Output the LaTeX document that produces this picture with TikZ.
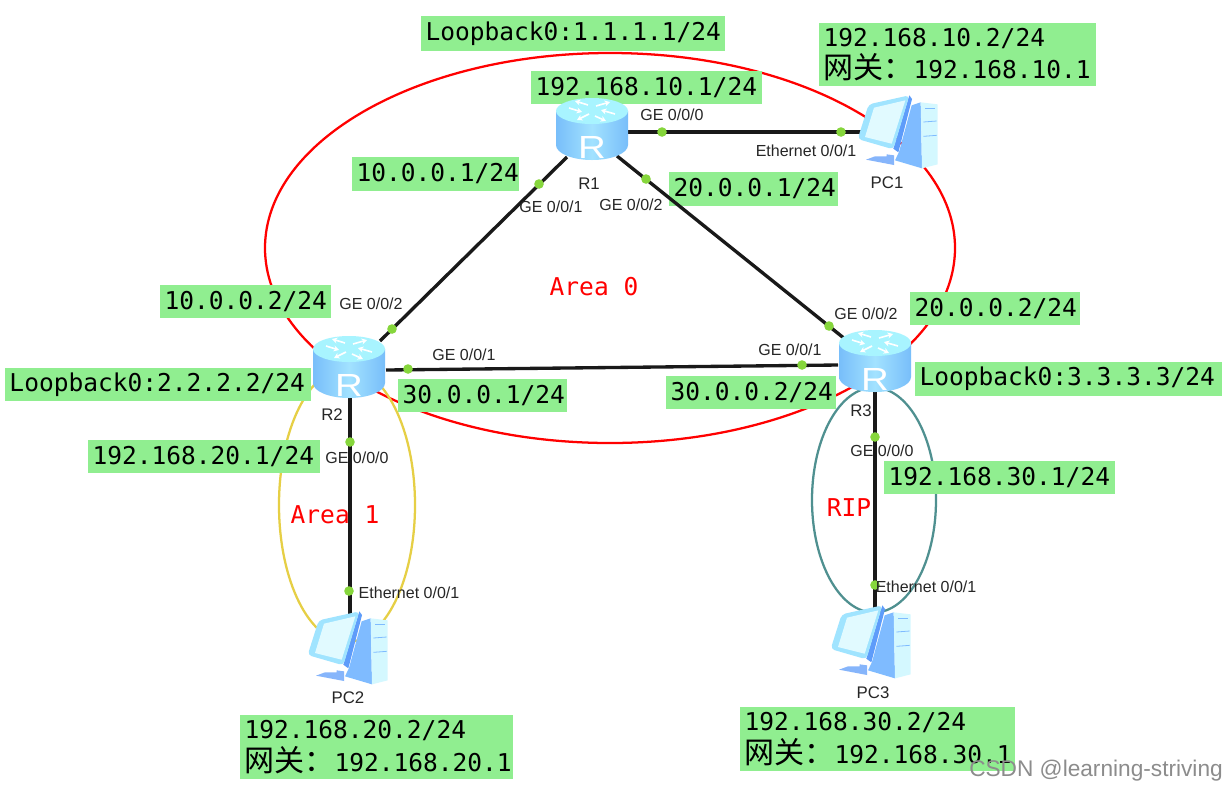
\documentclass[tikz,border=0pt]{standalone}
\usepackage{fontspec}
\usetikzlibrary{calc,arrows.meta}
\setmainfont{Liberation Sans}
\newfontfamily\labmono{DejaVu Sans Mono}
\newfontfamily\cjkf{Noto Sans CJK SC}
\definecolor{labgreen}{HTML}{90EE90}
\definecolor{portgreen}{HTML}{86D63C}
\definecolor{rtop}{HTML}{A8F4FF}
\definecolor{rside}{HTML}{A2E2FF}
\definecolor{rdark}{HTML}{78BEFA}
\definecolor{pcpale}{HTML}{D4F8FF}
\definecolor{pcmid}{HTML}{7FBBFF}
\definecolor{pcdark}{HTML}{5E9CFA}
\definecolor{pcscreen}{HTML}{A0E4FF}
\definecolor{areayellow}{HTML}{E6CF45}
\definecolor{areateal}{HTML}{4F9090}
\tikzset{
  x=0.75pt,y=-0.75pt,
  link/.style={line width=2.5pt,black!90},
  zone/.style={line width=1.7pt},
  portdot/.style={circle,fill=portgreen,inner sep=0pt,minimum size=7.2pt},
  portlab/.style={font=\fontsize{12pt}{14pt}\selectfont,text=black!85,inner sep=0pt},
  devlab/.style={font=\fontsize{12.6pt}{14pt}\selectfont,text=black!85,inner sep=0pt},
  areatxt/.style={font=\labmono\fontsize{18.4pt}{20pt}\selectfont,text=red,inner sep=0pt},
  device/.style={inner sep=0pt,minimum size=1pt},
  swirl/.style={white,line width=1.2pt,-{Stealth[length=4pt,width=4.5pt]}},
  pics/routericon/.style={code={
    \shade[left color=rdark,right color=rdark,middle color=rside] (-36,-18) -- (-36,16) arc[start angle=180,end angle=0,x radius=36,y radius=15] -- (36,-18) -- cycle;
    \fill[rtop] (0,-18) ellipse[x radius=36,y radius=13];
    \draw[swirl] (-23,-21) -- (-10,-17);
    \draw[swirl] (-4,-24) -- (-17,-28);
    \draw[swirl] (23,-15) -- (9,-19);
    \draw[swirl] (4,-23) -- (18,-27);
    \draw[swirl] (-3,-15) -- (-15,-9);
    \draw[swirl] (3,-13) -- (14,-8);
    \path (0,18) node[text=white,inner sep=0pt,font=\fontsize{24pt}{24pt}\selectfont] {\scalebox{1.2}[1]{R}};
  }},
  pics/pcicon/.style={code={
    \begin{scope}[x=0.25pt,y=-0.25pt,shift={(-210,-155)}]
      \fill[pcdark!75] (170,222) -- (192,225) -- (192,254) -- (108,238) -- (135,228) -- (170,228) -- cycle;
      \fill[pcmid] (245,75) -- (272,66) -- (276,264) -- (195,240) -- (207,215) -- cycle;
      \fill[pcpale] (272,66) -- (323,72) -- (323,252) -- (276,264) -- cycle;
      \draw[pcmid,line width=.6pt] (280,168) -- (320,165);
      \draw[pcmid,line width=.6pt] (280,125) -- (320,122);
      \draw[pcmid,line width=.6pt] (285,85) -- (316,85);
      \fill[pcdark] (238,45) -- (246,56) -- (205,216) -- (190,205) -- cycle;
      \fill[pcscreen,rounded corners=3pt] (116,72) -- (238,45) -- (190,207) -- (83,176) -- cycle;
      \fill[pcpale!70!white] (132,82) -- (226,60) -- (185,190) -- (105,170) -- cycle;
    \end{scope}
  }}
}
% name, x1, y1, x2, y2, text
\newcommand{\iplabel}[6]{%
  \pgfmathsetmacro{\lw}{(#4-#2-9)*0.75}%
  \path[fill=labgreen] (#2,#3) rectangle (#4,#5)
    node[midway,inner sep=0pt,text width=\lw pt,align=left,text=black] (#1)
    {\labmono\fontsize{18.4pt}{24pt}\selectfont #6};}
\newcommand{\gw}{{\cjkf\fontsize{22.5pt}{24pt}\selectfont 网关：}}
\begin{document}
\begin{tikzpicture}
\useasboundingbox[fill=white] (0,0) rectangle (1227,790);
% device anchors
\node[device] (R1) at (592,129) {};
\node[device] (R2) at (349,367) {};
\node[device] (R3) at (875,361) {};
\node[device] (PC1) at (900,132) {};
\node[device] (PC2) at (350,648) {};
\node[device] (PC3) at (873,642) {};
% zones
\draw[zone,red] (610,248) ellipse[x radius=345,y radius=195];
\draw[zone,areayellow] (347,505) ellipse[x radius=68,y radius=137];
\draw[zone,areateal] (874,500) ellipse[x radius=62,y radius=112.5];
% address labels
\iplabel{a1}{421}{16}{725}{51}{Loopback0:1.1.1.1/24}
\iplabel{a2}{531}{71}{762}{104}{192.168.10.1/24}
\iplabel{a3}{819}{23}{1096}{86}{192.168.10.2/24\\[3pt]\gw 192.168.10.1}
\iplabel{a4}{352}{157}{519}{191}{10.0.0.1/24}
\iplabel{a5}{669}{172}{838}{206}{20.0.0.1/24}
\iplabel{a6}{160}{285}{331}{318}{10.0.0.2/24}
\iplabel{a7}{910}{292}{1080}{325}{20.0.0.2/24}
\iplabel{a8}{5}{368}{311}{401}{Loopback0:2.2.2.2/24}
\iplabel{a9}{398}{379}{567}{412}{30.0.0.1/24}
\iplabel{a10}{666}{376}{836}{409}{30.0.0.2/24}
\iplabel{a11}{915}{362}{1222}{396}{Loopback0:3.3.3.3/24}
\iplabel{a12}{88}{440}{320}{473}{192.168.20.1/24}
\iplabel{a13}{884}{461}{1115}{494}{192.168.30.1/24}
\iplabel{a14}{240}{715}{513}{779}{192.168.20.2/24\\[3pt]\gw 192.168.20.1}
\iplabel{a15}{740}{707}{1015}{771}{192.168.30.2/24\\[3pt]\gw 192.168.30.1}
% links
\draw[link] ($(R1)+(36,3)$) -- ($(PC1)+(-38,0)$);
\draw[link] ($(R1)+(-25,28)$) -- ($(R2)+(31,-26)$);
\draw[link] ($(R1)+(25,27)$) -- ($(R3)+(-30,-22)$);
\draw[link] ($(R2)+(37,3)$) -- ($(R3)+(-37,4)$);
\draw[link] ($(R2)+(1,31)$) -- ($(PC2)+(0,-34)$);
\draw[link] ($(R3)+(0,31)$) -- ($(PC3)+(2,-34)$);
% icons
\pic at (R1) {routericon};
\pic at (R2) {routericon};
\pic at (R3) {routericon};
\pic at (PC1) {pcicon};
\pic at (PC2) {pcicon};
\pic at (PC3) {pcicon};
% port dots
\node[portdot] (d1) at (662,132) {};
\node[portdot] (d2) at (841,132) {};
\node[portdot] (d3) at (539,184) {};
\node[portdot] (d4) at (646,179) {};
\node[portdot] (d5) at (392,329) {};
\node[portdot] (d6) at (829,326) {};
\node[portdot] (d7) at (408,369) {};
\node[portdot] (d8) at (802,365) {};
\node[portdot] (d9) at (350,442) {};
\node[portdot] (d10) at (875,437) {};
\node[portdot] (d11) at (349,591) {};
\node[portdot] (d12) at (875,585) {};
% port labels
\node[portlab] (p1) at (672,115) {GE 0/0/0};
\node[portlab] (p2) at (806,151) {Ethernet 0/0/1};
\node[portlab] (p3) at (551,207) {GE 0/0/1};
\node[portlab] (p4) at (631,205) {GE 0/0/2};
\node[portlab] (p5) at (371,304) {GE 0/0/2};
\node[portlab] (p6) at (866,314) {GE 0/0/2};
\node[portlab] (p7) at (464,355) {GE 0/0/1};
\node[portlab] (p8) at (790,350) {GE 0/0/1};
\node[portlab] (p9) at (357,458) {GE 0/0/0};
\node[portlab] (p10) at (882,451) {GE 0/0/0};
\node[portlab] (p11) at (409,593) {Ethernet 0/0/1};
\node[portlab] (p12) at (926,587) {Ethernet 0/0/1};
% device names
\node[devlab] (n1) at (589,184) {R1};
\node[devlab] (n2) at (332,415) {R2};
\node[devlab] (n3) at (861,411) {R3};
\node[devlab] (n4) at (887,183) {PC1};
\node[devlab] (n5) at (348,698) {PC2};
\node[devlab] (n6) at (873,693) {PC3};
% area names
\node[areatxt] (z0) at (594,287) {Area 0};
\node[areatxt] (z1) at (335,515) {Area 1};
\node[areatxt] (z2) at (849,508) {RIP};
% watermark
\node[inner sep=0pt,text=black!45,font=\fontsize{17pt}{20pt}\selectfont] (wm) at (1096,771) {CSDN @learning-striving};
\end{tikzpicture}
\end{document}
